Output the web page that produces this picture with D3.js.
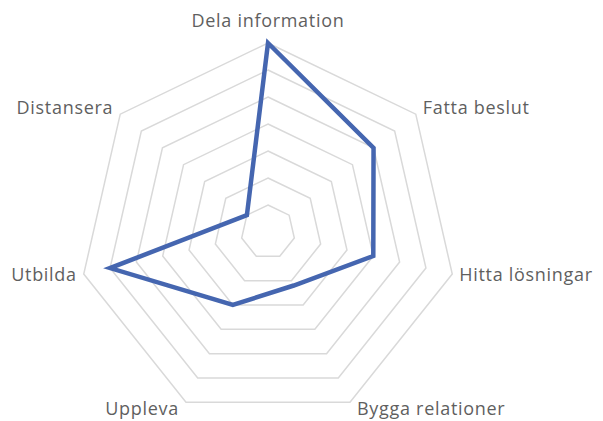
<!DOCTYPE html>
<html>
<head>
<meta charset="utf-8">
<script src="https://cdn.jsdelivr.net/npm/d3@7"></script>
<style>
  html, body { margin: 0; padding: 0; background: #fff; }
  svg { display: block; }
  .label { font-family: "Open Sans", "Liberation Sans", sans-serif; font-size: 18px; letter-spacing: 0.7px; fill: #5f5f5f; }
</style>
</head>
<body>
<svg id="radar"></svg>
<script>
// axis categories, clockwise from the top
const categories = ["Dela information", "Fatta beslut", "Hitta lösningar", "Bygga relationer", "Uppleva", "Utbilda", "Distansera"];
// series values
const values = [7, 5, 4, 2.2, 3, 6, 1];
// grid rings
const ringLevels = [1, 2, 3, 4, 5, 6, 7];

const width = 603, height = 421;
const cx = 268, cy = 232, radius = 189;

const svg = d3.select('#radar').attr('width', width).attr('height', height);
const g = svg.append('g').attr('transform', `translate(${cx},${cy})`);

const r = d3.scaleLinear().domain([0, 7]).range([0, radius]);
const angle = d3.scaleLinear().domain([0, categories.length]).range([0, 2 * Math.PI]);

// grid heptagons
const ringLine = d3.lineRadial()
    .angle((d, i) => angle(i))
    .radius(d => r(d))
    .curve(d3.curveLinearClosed);

g.selectAll('path.ring')
    .data(ringLevels)
    .enter()
    .append('path')
    .attr('class', 'ring')
    .attr('d', lv => ringLine(categories.map(() => lv)))
    .attr('fill', 'none')
    .attr('stroke', '#d9d9d9')
    .attr('stroke-width', 1.5);

// data line
g.append('path')
    .attr('d', ringLine(values))
    .attr('fill', 'none')
    .attr('stroke', '#4566b0')
    .attr('stroke-width', 4.5)
    .attr('stroke-linejoin', 'miter');

// axis labels
categories.forEach((name, i) => {
    const a = angle(i);
    const s = Math.sin(a), c = Math.cos(a);
    const vx = r(7) * s, vy = -r(7) * c;
    let anchor = 'middle', x = vx, y = vy;
    if (s > 0.1) { anchor = 'start'; x = vx + 7; }
    else if (s < -0.1) { anchor = 'end'; x = vx - 7; }
    if (c > 0.9) y = vy - 16;
    else if (c > 0.5) y = vy;
    else if (c > -0.5) y = vy + 7;
    else y = vy + 13;
    g.append('text')
        .attr('class', 'label')
        .attr('x', x)
        .attr('y', y)
        .attr('text-anchor', anchor)
        .text(name);
});
</script>
</body>
</html>
